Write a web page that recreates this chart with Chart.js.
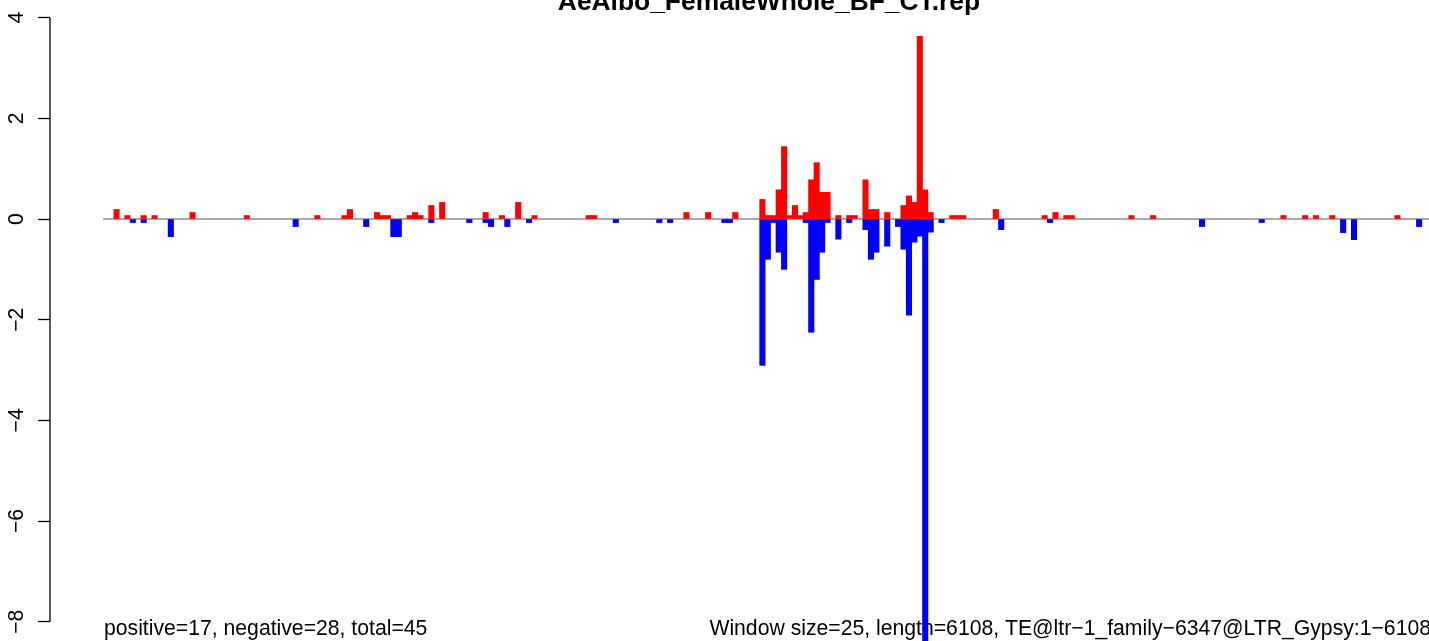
<!DOCTYPE html>
<html>
<head>
<meta charset="utf-8">
<title>AeAlbo_FemaleWhole_BF_CT.rep</title>
<script src="https://cdn.jsdelivr.net/npm/chart.js@4.4.0/dist/chart.umd.min.js"></script>
<style>
  html, body { margin: 0; padding: 0; background: #fff; overflow: hidden; }
  canvas { display: block; }
</style>
</head>
<body>
<canvas id="repChart" width="1429" height="641"></canvas>
<script>
// Window coverage plot, one bar per 25 bp window
const titleText = 'AeAlbo_FemaleWhole_BF_CT.rep';
const leftNote = 'positive=17, negative=28, total=45';
const rightNote = 'Window size=25, length=6108, TE@ltr\u22121_family\u22126347@LTR_Gypsy:1\u22126108';

const windowSize = 25;
const seqLength = 6108;

// windows (index of the 25 bp window) with positive values
const posWindows = [2, 4, 7, 9, 16, 26, 39, 44, 45, 50, 51, 52, 56, 57, 58, 60, 62, 70, 73, 76,
  79, 89, 90, 107, 111, 116, 121, 122, 123, 124, 125, 126, 127, 128, 129, 130, 131, 132, 133, 135,
  137, 138, 140, 141, 142, 144, 147, 148, 149, 150, 151, 152, 156, 157, 158, 164, 173, 175, 177, 178,
  189, 193, 217, 221, 223, 226, 238];
const posValues = [0.19, 0.07, 0.07, 0.07, 0.13, 0.07, 0.07, 0.07, 0.19, 0.13, 0.07, 0.07, 0.07, 0.13, 0.07, 0.27, 0.33, 0.13, 0.07, 0.33,
  0.07, 0.07, 0.07, 0.13, 0.13, 0.13, 0.39, 0.07, 0.07, 0.58, 1.44, 0.07, 0.27, 0.07, 0.13, 0.78, 1.12, 0.53, 0.53, 0.07,
  0.07, 0.07, 0.78, 0.19, 0.19, 0.13, 0.27, 0.46, 0.33, 3.63, 0.58, 0.13, 0.07, 0.07, 0.07, 0.19, 0.07, 0.13, 0.07, 0.07,
  0.07, 0.07, 0.07, 0.07, 0.07, 0.07, 0.07];

// windows with negative values
const negWindows = [5, 7, 12, 35, 48, 53, 54, 60, 67, 70, 71, 74, 78, 94, 102, 104, 114, 115, 121, 122,
  123, 124, 125, 129, 130, 131, 132, 133, 135, 137, 140, 141, 142, 144, 146, 147, 148, 149, 150, 151,
  152, 154, 165, 174, 202, 213, 228, 230, 242];
const negValues = [-0.07, -0.07, -0.35, -0.15, -0.15, -0.35, -0.35, -0.07, -0.07, -0.07, -0.15, -0.15, -0.07, -0.07, -0.07, -0.07, -0.07, -0.07, -2.91, -0.80,
  -0.07, -0.66, -1.00, -0.07, -2.25, -1.20, -0.66, -0.07, -0.40, -0.07, -0.21, -0.80, -0.66, -0.54, -0.15, -0.60, -1.91, -0.46, -0.34, -9.60,
  -0.26, -0.07, -0.21, -0.07, -0.15, -0.07, -0.27, -0.41, -0.15];

const yTicks = [-8, -6, -4, -2, 0, 2, 4];

const fontFamily = '"Liberation Sans", Arial, Helvetica, sans-serif';

const toPoints = (wins, vals) => wins.map((w, i) => ({ x: w * windowSize + windowSize / 2, y: vals[i] }));

// zero line, axis line and the text around the plot
const decorations = {
    id: 'decorations',
    beforeDatasetsDraw(chart) {
        const { ctx, chartArea } = chart;
        const x = chart.scales.x;
        const y = chart.scales.y;
        const y0 = y.getPixelForValue(0);

        ctx.save();
        ctx.strokeStyle = '#8c8c8c';
        ctx.lineWidth = 1.5;
        ctx.beginPath();
        ctx.moveTo(x.getPixelForValue(0), y0);
        ctx.lineTo(chartArea.right, y0);
        ctx.stroke();

        ctx.fillStyle = '#000';
        ctx.font = 'bold 26.4px ' + fontFamily;
        ctx.textAlign = 'center';
        ctx.textBaseline = 'alphabetic';
        ctx.fillText(titleText, 769, 10);

        ctx.font = '21.2px ' + fontFamily;
        ctx.textAlign = 'left';
        ctx.fillText(leftNote, x.getPixelForValue(0) + 1, 635);
        ctx.textAlign = 'right';
        ctx.fillText(rightNote, chartArea.right + 2, 635);
        ctx.restore();
    },
    afterDraw(chart) {
        const { ctx } = chart;
        const y = chart.scales.y;
        ctx.save();
        ctx.strokeStyle = '#000';
        ctx.lineWidth = 1.3;
        ctx.beginPath();
        ctx.moveTo(y.right, y.getPixelForValue(yTicks[yTicks.length - 1]));
        ctx.lineTo(y.right, y.getPixelForValue(yTicks[0]));
        ctx.stroke();
        ctx.restore();
    }
};

const ctx = document.getElementById('repChart').getContext('2d');
new Chart(ctx, {
    type: 'bar',
    data: {
        datasets: [{
            label: 'positive',
            data: toPoints(posWindows, posValues),
            backgroundColor: '#ff0000',
            borderWidth: 0,
            grouped: false,
            barPercentage: 1,
            categoryPercentage: 1
        }, {
            label: 'negative',
            data: toPoints(negWindows, negValues),
            backgroundColor: '#0000ff',
            borderWidth: 0,
            grouped: false,
            barPercentage: 1,
            categoryPercentage: 1
        }]
    },
    options: {
        responsive: false,
        animation: false,
        events: [],
        layout: { padding: 0 },
        plugins: {
            legend: { display: false },
            title: { display: false },
            tooltip: { enabled: false }
        },
        scales: {
            x: {
                type: 'linear',
                display: false,
                offset: false,
                min: -244.1,
                max: seqLength,
                ticks: { stepSize: 1000 }
            },
            y: {
                min: -8.384,
                max: 4.352,
                afterBuildTicks: s => { s.ticks = yTicks.map(v => ({ value: v })); },
                afterFit: s => {
                    s.width = 50;
                    s.paddingTop = 0;
                    s.paddingBottom = 0;
                },
                border: { display: false },
                grid: {
                    drawOnChartArea: false,
                    drawTicks: true,
                    tickLength: 12,
                    tickColor: '#000',
                    tickWidth: 1.3
                },
                ticks: {
                    color: '#000',
                    font: { family: fontFamily, size: 21.2 },
                    minRotation: 90,
                    maxRotation: 90,
                    crossAlign: 'center',
                    padding: 9,
                    autoSkip: false,
                    callback: v => String(v).replace('-', '\u2212')
                }
            }
        }
    },
    plugins: [decorations]
});
</script>
</body>
</html>
